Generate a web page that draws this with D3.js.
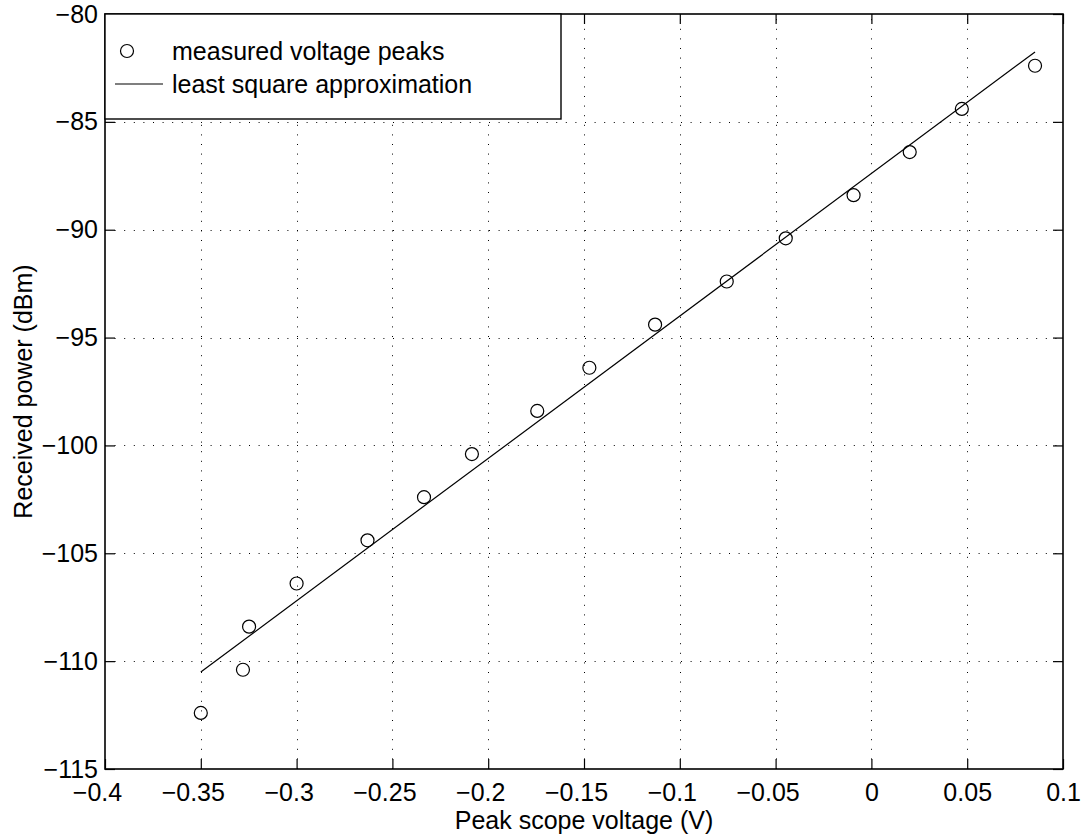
<!DOCTYPE html>
<html>
<head>
<meta charset="utf-8">
<script src="https://cdn.jsdelivr.net/npm/d3@7"></script>
<style>
  body { margin: 0; background: #fff; }
  text { font-family: "Liberation Sans", Arial, Helvetica, sans-serif; }
</style>
</head>
<body>
<div id="chart"></div>
<script>
// measured peaks (V -> dBm)
const voltage = [-0.35, -0.328, -0.3248, -0.300, -0.263, -0.2335, -0.2085, -0.1744,
                 -0.1472, -0.1129, -0.0755, -0.0447, -0.0093, 0.020, 0.0472, 0.0854];
const power = [-112.4, -110.4, -108.4, -106.4, -104.4, -102.4, -100.4, -98.4,
               -96.4, -94.4, -92.4, -90.4, -88.4, -86.4, -84.4, -82.4];

// end points of the least square line
const fitVoltage = [-0.35, 0.0854];
const fitPower = [-110.5, -81.76];

const xTicks = [-0.4, -0.35, -0.3, -0.25, -0.2, -0.15, -0.1, -0.05, 0, 0.05, 0.1];
const xTickLabels = ["\u22120.4", "\u22120.35", "\u22120.3", "\u22120.25", "\u22120.2", "\u22120.15",
                     "\u22120.1", "\u22120.05", "0", "0.05", "0.1"];
const yTicks = [-115, -110, -105, -100, -95, -90, -85, -80];
const yTickLabels = ["\u2212115", "\u2212110", "\u2212105", "\u2212100", "\u221295", "\u221290", "\u221285", "\u221280"];

const legendLabels = ["measured voltage peaks", "least square approximation"];

class PeakPlot {

  constructor() {
    this.width = 1084;
    this.height = 835;
    this.left = 105;
    this.right = 1063;
    this.top = 14;
    this.bottom = 769;
    this.fontSize = 25;
    this.tickLen = 10;

    this.svg = d3.select("#chart").append("svg")
      .attr("width", this.width).attr("height", this.height);

    //Scales
    this.x = d3.scaleLinear().domain([-0.4, 0.1]).range([this.left, this.right]);
    this.y = d3.scaleLinear().domain([-115, -80]).range([this.bottom, this.top]);
  }

  drawGrid() {
    let grid = this.svg.append("g")
      .attr("stroke", "#000")
      .attr("stroke-width", 1)
      .attr("stroke-dasharray", "1,8.6");

    grid.selectAll("line.vx").data(xTicks.slice(1, -1)).enter().append("line")
      .attr("x1", d => Math.round(this.x(d)) + 0.5).attr("x2", d => Math.round(this.x(d)) + 0.5)
      .attr("y1", this.bottom).attr("y2", this.top);

    grid.selectAll("line.hy").data(yTicks.slice(1, -1)).enter().append("line")
      .attr("y1", d => Math.round(this.y(d)) + 0.5).attr("y2", d => Math.round(this.y(d)) + 0.5)
      .attr("x1", this.left).attr("x2", this.right);
  }

  drawAxes() {
    let xAxis = d3.axisBottom(this.x).tickValues(xTicks)
      .tickFormat((d, i) => xTickLabels[i])
      .tickSizeInner(-this.tickLen).tickSizeOuter(0).tickPadding(14);
    let yAxis = d3.axisLeft(this.y).tickValues(yTicks)
      .tickFormat((d, i) => yTickLabels[i])
      .tickSizeInner(-this.tickLen).tickSizeOuter(0).tickPadding(7);
    let xTop = d3.axisTop(this.x).tickValues(xTicks).tickFormat("")
      .tickSizeInner(-this.tickLen).tickSizeOuter(0);
    let yRight = d3.axisRight(this.y).tickValues(yTicks).tickFormat("")
      .tickSizeInner(-this.tickLen).tickSizeOuter(0);

    let bottomG = this.svg.append("g").attr("transform", `translate(0, ${this.bottom})`).call(xAxis);
    let groups = [
      bottomG,
      this.svg.append("g").attr("transform", `translate(${this.left}, 0)`).call(yAxis),
      this.svg.append("g").attr("transform", `translate(0, ${this.top})`).call(xTop),
      this.svg.append("g").attr("transform", `translate(${this.right}, 0)`).call(yRight)
    ];
    groups.forEach(g => {
      g.select(".domain").remove();
      g.selectAll("line").attr("stroke", "#000").attr("stroke-width", 1.2);
      g.selectAll("text").attr("font-size", this.fontSize).attr("fill", "#000")
        .attr("font-family", "'Liberation Sans', Arial, sans-serif");
    });
    // negative labels sit a bit left of their tick, like the original
    bottomG.selectAll("text").attr("dx", d => d < 0 ? -8 : 0);

    //Box around the axes
    this.svg.append("rect")
      .attr("x", this.left).attr("y", this.top)
      .attr("width", this.right - this.left).attr("height", this.bottom - this.top)
      .attr("fill", "none").attr("stroke", "#000").attr("stroke-width", 1.6);

    //Axis titles
    this.svg.append("text").text("Peak scope voltage (V)")
      .attr("x", (this.left + this.right) / 2).attr("y", 829)
      .attr("text-anchor", "middle").attr("font-size", this.fontSize);
    this.svg.append("text").text("Received power (dBm)")
      .attr("transform", `translate(32, ${(this.top + this.bottom) / 2}) rotate(-90)`)
      .attr("text-anchor", "middle").attr("font-size", this.fontSize);
  }

  drawData() {
    let fit = d3.line().x(d => this.x(d[0])).y(d => this.y(d[1]));
    this.svg.append("path")
      .datum(d3.zip(fitVoltage, fitPower))
      .attr("d", fit)
      .attr("fill", "none").attr("stroke", "#000").attr("stroke-width", 1.2);

    this.svg.append("g").selectAll("circle").data(d3.zip(voltage, power)).enter().append("circle")
      .attr("cx", d => this.x(d[0])).attr("cy", d => this.y(d[1]))
      .attr("r", 6.5)
      .attr("fill", "none").attr("stroke", "#000").attr("stroke-width", 1.2);
  }

  drawLegend() {
    let lg = this.svg.append("g");
    lg.append("rect")
      .attr("x", this.left).attr("y", this.top)
      .attr("width", 561 - this.left).attr("height", 119 - this.top)
      .attr("fill", "#fff").attr("stroke", "#000").attr("stroke-width", 1.4);

    let rows = [51, 84];
    lg.append("circle").attr("cx", 127).attr("cy", rows[0]).attr("r", 6.5)
      .attr("fill", "none").attr("stroke", "#000").attr("stroke-width", 1.2);
    lg.append("line").attr("x1", 115).attr("x2", 163).attr("y1", rows[1]).attr("y2", rows[1])
      .attr("stroke", "#000").attr("stroke-width", 1.2);

    lg.selectAll("text").data(legendLabels).enter().append("text")
      .text(d => d)
      .attr("x", 172).attr("y", (d, i) => rows[i])
      .attr("dy", "0.35em")
      .attr("font-size", this.fontSize);
  }
}

let plot = new PeakPlot();
plot.drawGrid();
plot.drawData();
plot.drawAxes();
plot.drawLegend();
</script>
</body>
</html>
